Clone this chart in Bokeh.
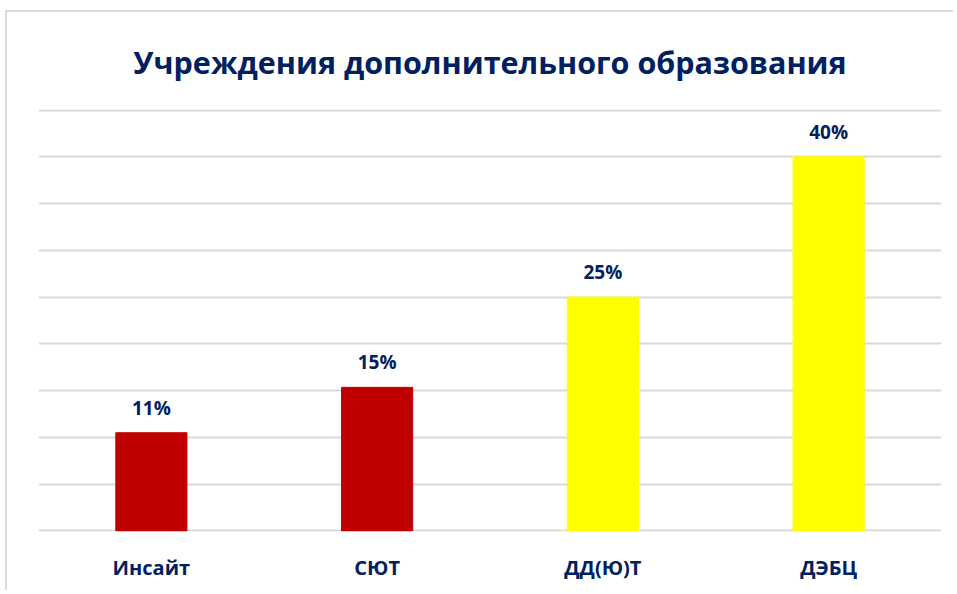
from bokeh.plotting import figure
from bokeh.models import ColumnDataSource, LabelSet, FixedTicker, Range1d
from bokeh.core.properties import value
from bokeh.embed import file_html
from bokeh.resources import INLINE

categories = ["Инсайт", "СЮТ", "ДД(Ю)Т", "ДЭБЦ"]
values = [10.5, 15.35, 25, 40]
labels = ["11%", "15%", "25%", "40%"]
colors = ["#C00000", "#C00000", "#FFFF00", "#FFFF00"]
grid_ticks = [0, 5, 10, 15, 20, 25, 30, 35, 40, 45]

TXT = "#002060"
FONT = "Open Sans"

src = ColumnDataSource(dict(cat=categories, val=values, lab=labels, col=colors))

p = figure(x_range=categories, y_range=Range1d(-0.06, 45.06), width=948, height=580,
           output_backend="svg", toolbar_location=None,
           min_border_left=31, min_border_right=14, min_border_top=0, min_border_bottom=61)

p.title.text = "Учреждения дополнительного образования"
p.title.align = "center"
p.title.text_font = FONT
p.title.text_font_style = "bold"
p.title.text_font_size = "30.5px"
p.title.text_color = TXT
p.title.offset = 0
p.title.standoff = 53

p.vbar(x="cat", top="val", width=0.315, color="col", source=src)

p.add_layout(LabelSet(x="cat", y="val", text="lab", source=src, text_align="center",
                      text_baseline="middle", y_offset=25, text_font=value(FONT),
                      text_font_style="bold", text_font_size="19px", text_color=TXT))

p.xgrid.grid_line_color = None
p.ygrid.ticker = FixedTicker(ticks=grid_ticks)
p.ygrid.grid_line_color = "#D9D9D9"
p.ygrid.grid_line_width = 2
p.yaxis.visible = False

p.xaxis.axis_line_color = None
p.xaxis.major_tick_line_color = None
p.xaxis.minor_tick_line_color = None
p.xaxis.major_label_standoff = 16
p.xaxis.major_label_text_font = FONT
p.xaxis.major_label_text_font_style = "bold"
p.xaxis.major_label_text_font_size = "20px"
p.xaxis.major_label_text_color = TXT

p.outline_line_color = None
p.styles = {"margin-left": "5px", "margin-top": "10px",
            "border-left": "2px solid #D9D9D9", "border-top": "2px solid #D9D9D9"}

open("out.html", "w").write(file_html(p, INLINE))
